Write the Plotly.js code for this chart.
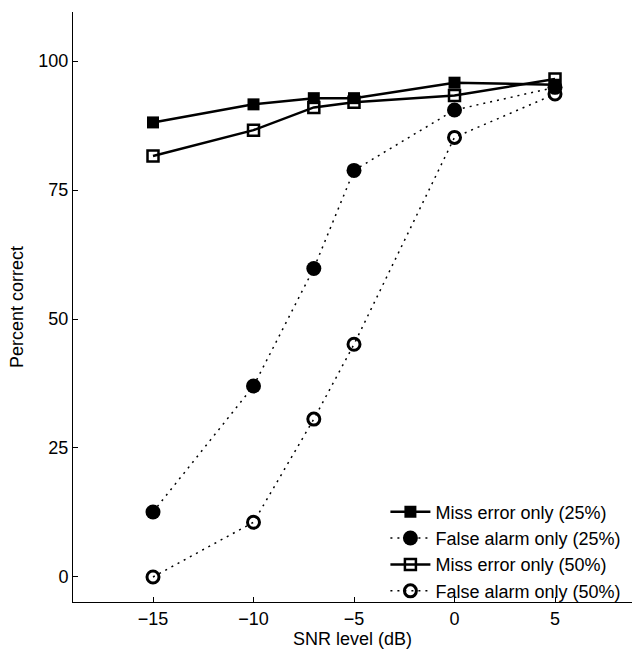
<!DOCTYPE html>
<html>
<head>
<meta charset="utf-8">
<script src="https://cdn.plot.ly/plotly-3.0.1.min.js"></script>
<style>html,body{margin:0;padding:0;background:#fff;}#chart{width:632px;height:649px;}</style>
</head>
<body>
<div id="chart"></div>
<script>
const snr = [-15, -10, -7, -5, 0, 5];
const missErr25 = [88.1, 91.6, 92.8, 92.8, 95.8, 95.4];
const falseAlarm25 = [12.6, 37.0, 59.8, 78.8, 90.5, 94.9];
const missErr50 = [81.6, 86.6, 91.0, 92.0, 93.3, 96.5];
const falseAlarm50 = [0.0, 10.6, 30.6, 45.1, 85.2, 93.6];
const seriesNames = ['Miss error only (25%)', 'False alarm only (25%)', 'Miss error only (50%)', 'False alarm only (50%)'];
const xTicks = [-15, -10, -5, 0, 5];
const yTicks = [0, 25, 50, 75, 100];

const dotted = '2px,5px';
const traces = [
  {x: snr, y: missErr25, name: seriesNames[0], mode: 'lines+markers',
   line: {color: '#000', width: 2.5},
   marker: {symbol: 'square', size: 12, color: '#000'}},
  {x: snr, y: falseAlarm25, name: seriesNames[1], mode: 'lines+markers',
   line: {color: '#000', width: 1.5, dash: dotted},
   marker: {symbol: 'circle', size: 15, color: '#000'}},
  {x: snr, y: missErr50, name: seriesNames[2], mode: 'lines+markers',
   line: {color: '#000', width: 2.5},
   marker: {symbol: 'square-open', size: 11, color: '#000', line: {width: 2.5, color: '#000'}}},
  {x: snr, y: falseAlarm50, name: seriesNames[3], mode: 'lines+markers',
   line: {color: '#000', width: 1.5, dash: dotted},
   marker: {symbol: 'circle-open', size: 12, color: '#000', line: {width: 3, color: '#000'}}}
];

const layout = {
  width: 632, height: 649,
  margin: {l: 73, r: 0, t: 12, b: 47},
  paper_bgcolor: '#fff', plot_bgcolor: '#fff',
  font: {family: '"Liberation Sans", Arial, sans-serif', size: 18, color: '#000'},
  showlegend: true,
  legend: {x: 0.99, xanchor: 'right', y: 0.184, yanchor: 'top',
           bgcolor: 'rgba(0,0,0,0)', borderwidth: 0, font: {size: 18},
           itemwidth: 40, tracegroupgap: 0},
  xaxis: {range: [-18.98, 8.83], tickvals: xTicks, ticktext: xTicks.map(v => v < 0 ? '\u2212' + Math.abs(v) : String(v)),
          ticks: 'inside', ticklen: 5, tickwidth: 1, tickcolor: '#000',
          showline: true, linecolor: '#000', linewidth: 1, mirror: false,
          showgrid: false, zeroline: false, tickfont: {size: 18},
          title: {text: 'SNR level (dB)', standoff: 5, font: {size: 18}}},
  yaxis: {range: [-4.85, 109.5], tickvals: yTicks,
          ticks: 'inside', ticklen: 5, tickwidth: 1, tickcolor: '#000',
          showline: true, linecolor: '#000', linewidth: 1, mirror: false,
          showgrid: false, zeroline: false, tickfont: {size: 18},
          title: {text: 'Percent correct', standoff: 10, font: {size: 18}}}
};

Plotly.newPlot('chart', traces, layout, {displayModeBar: false, staticPlot: true});
</script>
</body>
</html>
